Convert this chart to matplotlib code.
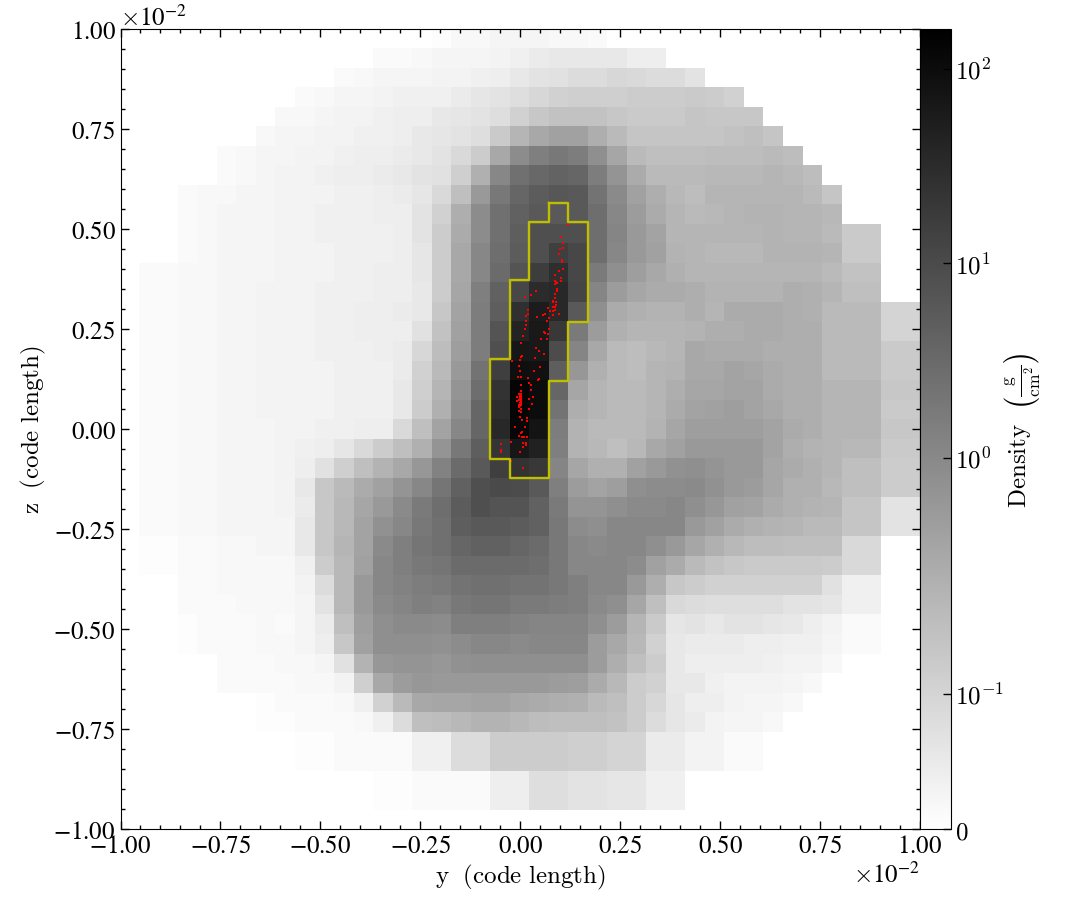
import numpy as np
import matplotlib
matplotlib.use("Agg")
import matplotlib.pyplot as plt
from matplotlib.colors import SymLogNorm

plt.rcParams['font.family'] = ['STIXGeneral', 'DejaVu Sans']
plt.rcParams['mathtext.fontset'] = 'stix'

# density, as percent of colorbar height
# each row runs from the top of the image, first_cols says where it starts
first_cols = [16, 13, 11, 9, 8, 7, 5, 5, 3, 3, 3, 3, 1, 1, 1, 1, 1, 1, 1, 1, 1,
              1, 1, 1, 1, 1, 1, 1, 3, 3, 3, 3, 5, 5, 7, 7, 9, 9, 13, 13, 0]
levels = [
    [1,3,3,4,4,4,3,3,2],
    [2,2,3,4,4,4,5,6,8,9,9,9,9,7,7],
    [2,3,4,4,4,5,5,6,7,9,11,12,14,14,16,15,14,14,11],
    [2,3,4,4,5,6,6,6,8,10,11,13,16,18,19,19,19,20,20,20,21,20,18],
    [3,3,4,5,5,6,7,7,9,10,11,13,18,22,24,24,24,22,21,21,21,23,22,22,22],
    [3,4,4,5,5,6,6,7,9,10,11,13,21,29,34,37,37,32,27,23,23,23,23,23,24,25,23],
    [2,3,4,4,5,5,6,7,7,8,9,11,15,20,34,45,50,53,51,44,35,27,25,25,25,26,26,26,27,26],
    [2,3,4,5,5,6,7,7,8,9,11,12,19,31,47,56,59,61,60,51,42,33,27,27,27,28,28,28,29,28,26],
    [2,3,3,4,4,5,5,5,6,6,7,8,10,15,25,40,53,60,64,66,65,55,46,37,32,28,26,29,29,29,29,29,27,23],
    [2,3,4,4,4,5,5,6,6,6,7,7,11,18,32,45,56,62,65,65,65,57,47,39,33,29,27,28,29,30,30,29,29,28],
    [2,3,4,4,4,5,5,6,6,6,6,7,11,20,33,45,56,63,69,69,69,57,48,40,36,29,29,29,29,29,30,29,29,27,21,21],
    [2,3,4,4,4,5,5,5,6,6,6,7,10,20,34,47,57,64,69,75,72,57,47,40,37,30,29,28,28,28,30,30,30,29,21,21],
    [2,2,3,3,4,4,4,5,5,5,6,6,7,7,10,20,34,47,58,67,76,82,72,52,44,38,34,31,29,29,29,29,29,29,29,27,24,24],
    [2,2,3,3,4,4,5,5,5,6,6,6,7,7,9,20,35,50,62,72,83,84,73,48,39,35,33,33,32,30,30,30,30,32,31,29,25,25],
    [2,2,3,3,4,4,5,5,5,6,6,7,7,8,9,22,36,51,63,81,89,84,65,44,33,31,30,30,32,29,33,33,33,32,31,27,27,27,17,17],
    [2,2,3,3,4,4,5,5,5,6,6,7,7,7,12,24,37,51,67,86,90,78,52,39,31,29,29,29,30,32,32,33,33,32,32,27,27,27,17,17],
    [2,2,3,3,4,4,5,5,5,6,6,6,7,8,16,26,38,51,69,91,90,70,48,34,27,26,28,29,34,33,33,33,32,32,32,27,27,27,21,21],
    [2,2,3,3,4,4,5,5,5,5,6,6,6,8,18,27,40,55,75,94,93,63,41,31,27,26,29,30,34,34,36,35,33,32,32,27,27,27,21,21],
    [2,2,3,3,4,4,5,5,5,5,6,6,6,9,19,29,42,57,80,98,95,60,35,29,27,27,29,32,35,35,36,36,33,32,32,29,29,29,22,22],
    [2,2,3,3,4,4,5,5,5,5,6,6,6,9,20,31,44,60,82,98,95,55,32,29,27,27,29,33,36,37,38,36,34,32,32,29,29,29,21,21],
    [2,2,3,3,4,4,4,5,5,6,6,7,7,15,25,36,47,60,84,97,92,51,30,27,27,27,30,35,38,38,38,38,36,33,32,29,29,29,22,22],
    [2,2,3,3,4,4,4,5,6,7,10,15,20,25,31,42,53,63,79,91,87,50,30,28,25,28,34,37,40,40,40,40,36,32,30,29,28,28,21,21],
    [2,2,3,3,4,4,4,5,7,12,19,25,30,34,41,49,58,65,75,80,78,48,35,31,31,37,40,43,44,42,40,40,35,33,31,29,25,25,20,20],
    [2,2,3,3,4,4,4,5,9,22,27,33,37,42,47,54,62,69,71,70,65,50,39,36,38,44,45,45,46,43,40,39,35,31,31,28,25,25,20,20],
    [2,2,3,3,4,4,4,5,8,22,28,35,40,46,52,57,64,69,67,67,62,52,42,42,44,46,46,47,44,41,37,36,33,31,30,29,23,23,11,11],
    [2,2,3,3,4,4,4,4,9,22,28,36,43,47,53,56,63,65,65,64,62,53,45,44,47,47,47,47,40,37,33,31,30,29,27,27,23,23,11,11],
    [1,1,2,2,3,3,4,4,9,22,29,36,46,50,54,56,60,62,62,60,58,53,47,46,47,47,44,40,35,31,28,26,26,25,25,25,15,15],
    [1,1,2,2,3,3,3,3,6,20,28,37,47,50,53,54,58,58,58,58,57,53,47,47,47,45,37,33,27,24,22,21,21,21,21,20,15,15],
    [2,2,3,3,3,3,5,14,28,40,47,49,51,52,55,56,56,55,55,53,50,47,47,40,32,22,20,18,18,18,18,18,18,12,6,6],
    [2,2,2,3,3,3,4,11,28,40,46,48,50,49,53,54,54,52,52,51,50,46,44,35,25,15,14,13,13,13,13,11,11,10,6,6],
    [1,2,2,2,3,2,4,8,25,38,44,46,46,45,50,50,50,49,48,48,48,44,39,29,21,10,11,9,11,11,10,9,7,5,2,2],
    [1,2,2,2,3,3,4,7,22,37,44,44,44,43,45,47,47,46,47,47,47,39,34,28,18,9,8,8,8,7,7,6,6,4,2,2],
    [2,2,2,3,3,4,12,30,41,42,42,41,43,44,44,44,44,44,44,39,32,25,20,9,7,7,7,7,6,5,5,3],
    [2,2,2,2,3,3,5,19,34,39,41,40,40,40,40,40,40,39,38,33,28,20,18,9,9,6,5,5,5,4,3],
    [1,2,2,2,3,6,18,27,34,35,35,36,36,34,33,32,31,27,25,20,16,10,7,7,5,4,4,3],
    [1,1,2,2,2,3,6,14,25,26,28,30,30,28,26,25,25,25,24,20,14,10,8,5,4,4,3],
    [1,1,2,2,2,2,6,6,14,14,20,20,20,20,19,19,17,17,8,8,5,5,2,2],
    [1,1,2,2,2,2,6,6,14,14,20,20,20,20,19,19,17,17,8,8,5,5,2,2],
    [1,1,2,2,2,2,7,7,13,13,11,11,10,10,6,6],
    [1,1,2,2,2,2,7,7,13,13,11,11,10,10,6,6],
    [],
]

# yellow outline, in units of 1e-2 code length
outline_y = [0.071, 0.12, 0.12, 0.169, 0.169, 0.12, 0.12, 0.071, 0.071, -0.026, -0.026,
             -0.075, -0.075, -0.026, -0.026, 0.0225, 0.0225, 0.071, 0.071]
outline_z = [0.565, 0.565, 0.5175, 0.5175, 0.2675, 0.2675, 0.12, 0.12, -0.1225, -0.1225, -0.075,
             -0.075, 0.175, 0.175, 0.3725, 0.3725, 0.5175, 0.5175, 0.565]

# red particles, in units of 1e-2 code length
particle_y = [.120,.1025,.1075,.099,.107,.096,.104,.104,.107,.097,.087,.101,.101,.086,.089,.093,.088,.091,.092,.0875,
              .039,.0275,.0125,.087,.081,.083,.089,.089,.0825,.087,.070,.0875,.075,.081,.020,.019,.014,.0425,.056,.063,
              .083,.0975,.0725,.014,.014,.012,.0075,.003,.068,.0725,.060,.061,.070,.0675,.052,.040,.046,.059,.004,.001,
              -.001,-.021,.0375,.050,-.0025,0,.035,-.006,.0025,.019,.048,.044,.0225,.0025,.026,.027,.0025,-.004,.032,-.008,
              -.008,.023,.029,.021,.016,.016,.004,-.001,-.012,.013,.005,.001,-.004,.005,.010,.018,-.022,.0075,.014,.014,
              .0065,-.049,-.048,-.048,0,-.022,.008,
              0,.002,-.001,.0025,0,.002,-.002,.001,.0025,-.001,.002,-.0025,.003,0,-.003,.002,-.002,.003,
              .001,.001,.001,.001,.001,.001]
particle_z = [.510,.480,.465,.449,.4525,.4375,.423,.4175,.399,.394,.386,.377,.370,.371,.367,.364,.362,.350,.346,.3375,
              .346,.336,.329,.328,.321,.318,.317,.309,.306,.304,.302,.297,.295,.294,.298,.2875,.2825,.280,.284,.287,
              .286,.287,.2775,.269,.260,.251,.233,.214,.271,.250,.243,.240,.237,.226,.225,.202,.194,.187,.183,.181,
              .173,.171,.1775,.154,.157,.146,.144,.129,.129,.128,.126,.123,.115,.111,.109,.098,.096,.088,.080,.079,
              .071,.074,.0625,.051,.028,.021,.023,.029,.005,.006,-.007,-.010,-.018,-.020,-.021,-.021,-.033,-.036,-.035,-.041,
              -.044,-.0375,-.052,-.057,-.057,-.081,-.097,
              .088,.085,.082,.080,.0775,.075,.0725,.070,.0675,.065,.0625,.060,.060,.057,.054,.050,.046,.042,
              .0867,.0833,.0783,.0733,.0683,.0633]

cbar_ticks = [0, 0.1, 1, 10, 100]
cbar_labels = ['$0$', '$10^{-1}$', '$10^{0}$', '$10^{1}$', '$10^{2}$']

cell = 1 / 2048
n = 41
col_edges = 0.000225 + cell * (np.arange(n + 1) - 21)
row_edges = 0.0100125 - cell * np.arange(n + 1)

grid = np.zeros((n, n))
for j in range(n):
    grid[j, first_cols[j]:first_cols[j] + len(levels[j])] = levels[j]

norm = SymLogNorm(linthresh=0.16, linscale=1, vmin=0, vmax=160, base=10)
density = norm.inverse(grid / 100)

fig = plt.figure(figsize=(10.85, 9.2), dpi=100)
ax = fig.add_axes([120.5 / 1085, 1 - 830 / 920, 799.5 / 1085, 800 / 920])
cax = fig.add_axes([920 / 1085, 1 - 830 / 920, 30.5 / 1085, 800 / 920])

mesh = ax.pcolormesh(col_edges, row_edges, density, cmap='gist_yarg', norm=norm)
ax.plot(np.array(outline_y) * 0.01, np.array(outline_z) * 0.01, color='y', lw=1.7, solid_joinstyle='round')
ax.scatter(np.array(particle_y) * 0.01, np.array(particle_z) * 0.01, s=1.0, c='r', marker='s', linewidths=0)

ax.set_xlim(-0.01, 0.01)
ax.set_ylim(-0.01, 0.01)
ax.set_xticks(np.arange(-4, 5) * 0.0025)
ax.set_yticks(np.arange(-4, 5) * 0.0025)
ax.set_xticks(np.arange(-20, 21) * 0.0005, minor=True)
ax.set_yticks(np.arange(-20, 21) * 0.0005, minor=True)
ax.ticklabel_format(useMathText=True, style='sci', scilimits=(0, 0))
ax.tick_params(which='major', direction='in', top=True, right=True, length=6, width=1, labelsize=18)
ax.tick_params(which='minor', direction='in', top=True, right=True, length=3, width=1)
for off in [ax.xaxis.get_offset_text(), ax.yaxis.get_offset_text()]:
    off.set_fontsize(18)
    off.set_math_fontfamily('cm')
ax.set_xlabel(r'$\mathrm{y\ \ (code\ length)}$', fontsize=18, math_fontfamily='cm', labelpad=3)
ax.set_ylabel(r'$\mathrm{z\ \ (code\ length)}$', fontsize=18, math_fontfamily='cm', labelpad=4)

cbar = fig.colorbar(mesh, cax=cax)
cbar.set_ticks(cbar_ticks)
cbar.set_ticklabels(cbar_labels)
cbar.ax.minorticks_off()
cbar.ax.tick_params(direction='in', length=6, width=1, labelsize=18)
for lab in cbar.ax.get_yticklabels():
    lab.set_math_fontfamily('cm')
cbar.set_label(r'$\mathrm{Density}\ \ \left(\frac{\mathrm{g}}{\mathrm{cm}^{2}}\right)$', fontsize=18,
               math_fontfamily='cm', labelpad=-2)

fig.savefig('out.png', dpi=100)
